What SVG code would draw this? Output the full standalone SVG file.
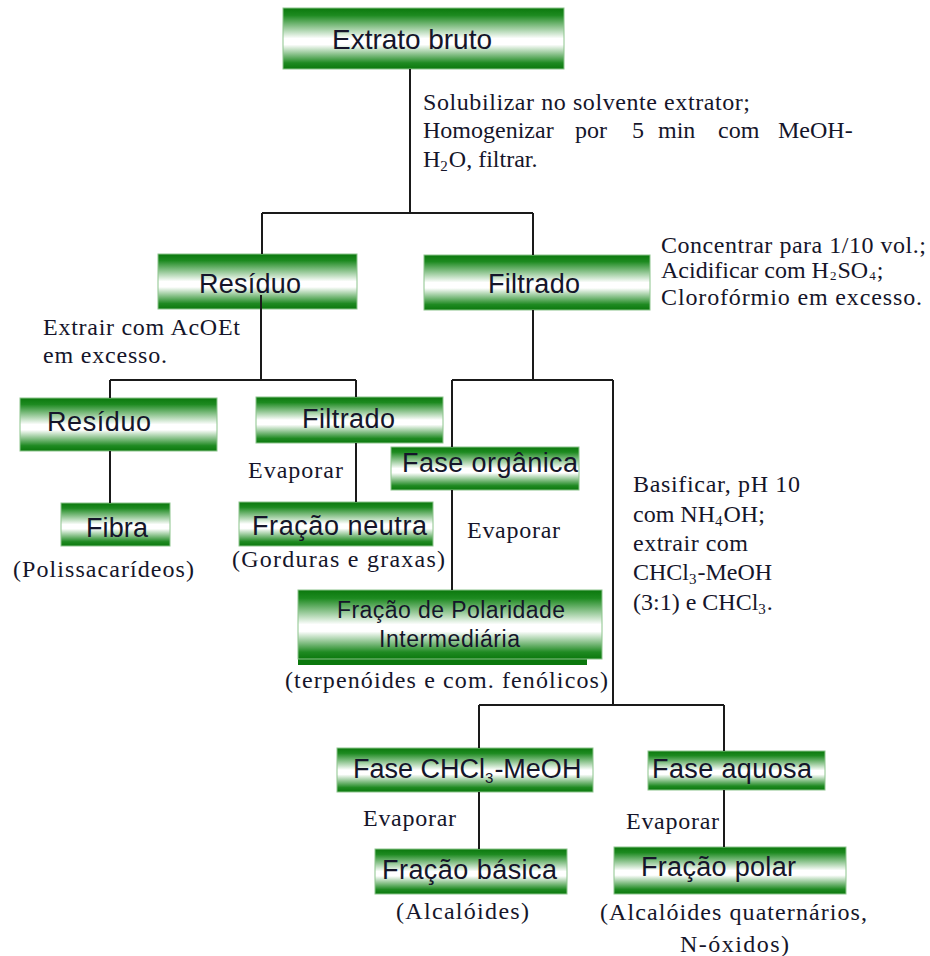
<svg xmlns="http://www.w3.org/2000/svg" width="930" height="956" viewBox="0 0 930 956">
<defs>
<linearGradient id="g" x1="0" y1="0" x2="0" y2="1">
<stop offset="0" stop-color="#0b780d"/>
<stop offset="0.12" stop-color="#1d8a20"/>
<stop offset="0.5" stop-color="#ffffff"/>
<stop offset="0.6" stop-color="#ffffff"/>
<stop offset="0.9" stop-color="#1f8a22"/>
<stop offset="1" stop-color="#0b780d"/>
</linearGradient>
<style>
.box{fill:url(#g);stroke:#8cc48c;stroke-width:1}
.ns{font-family:"Liberation Sans",Arial,sans-serif;font-size:27px;fill:#15152a}
.big{font-size:28px}
.sm{font-size:23px}
.sr{font-family:"Liberation Serif","Times New Roman",serif;font-size:24px;fill:#15152a}
.sub{font-size:15px}
.sub2{font-size:13px}
.ln{stroke:#1a1a1a;stroke-width:2;fill:none}
</style>
</defs>
<rect width="930" height="956" fill="#ffffff"/>

<g id="n-extrato">
<rect class="box" x="283" y="8" width="281" height="61"/>
<text class="ns big" x="332" y="49" textLength="160">Extrato bruto</text>
</g>
<g id="n-residuo1">
<rect class="box" x="158" y="254" width="199" height="55"/>
<text class="ns" x="199" y="293" textLength="102">Resíduo</text>
</g>
<g id="n-filtrado1">
<rect class="box" x="424" y="255" width="226" height="55"/>
<text class="ns" x="488" y="293" textLength="92">Filtrado</text>
</g>
<g id="n-residuo2">
<rect class="box" x="20" y="398" width="197" height="53"/>
<text class="ns" x="47" y="431" textLength="104">Resíduo</text>
</g>
<g id="n-filtrado2">
<rect class="box" x="256" y="397" width="187" height="46"/>
<text class="ns" x="302" y="428" textLength="93">Filtrado</text>
</g>
<g id="n-organica">
<rect class="box" x="391" y="447" width="188" height="43"/>
<text class="ns" x="402" y="472" textLength="176">Fase orgânica</text>
</g>
<g id="n-fibra">
<rect class="box" x="61" y="503" width="109" height="43"/>
<text class="ns" x="86" y="537" textLength="62">Fibra</text>
</g>
<g id="n-neutra">
<rect class="box" x="239" y="502" width="194" height="44"/>
<text class="ns" x="252" y="535" textLength="175">Fração neutra</text>
</g>
<g id="n-polaridade">
<rect x="298" y="657" width="289" height="8" fill="#0b780d"/>
<rect class="box" x="298" y="590" width="304" height="69"/>
<text class="ns sm" x="337" y="618" textLength="228">Fração de Polaridade</text>
<text class="ns sm" x="379" y="647" textLength="141">Intermediária</text>
</g>
<g id="n-chcl3">
<rect class="box" x="337" y="748" width="256" height="44"/>
<text class="ns" x="353" y="778">Fase CHCl<tspan class="sub" dy="5">3</tspan><tspan dy="-5" dx="1">-MeOH</tspan></text>
</g>
<g id="n-aquosa">
<rect class="box" x="648" y="751" width="177" height="39"/>
<text class="ns" x="652" y="778" textLength="160">Fase aquosa</text>
</g>
<g id="n-basica">
<rect class="box" x="375" y="849" width="192" height="45"/>
<text class="ns" x="382" y="879" textLength="175">Fração básica</text>
</g>
<g id="n-polar">
<rect class="box" x="614" y="847" width="232" height="47"/>
<text class="ns" x="641" y="876" textLength="155">Fração polar</text>
</g>

<g id="connectors">
<path class="ln" d="M410 69V213M262 213H533M262 213V254M533 213V255"/>
<path class="ln" d="M261 295V380M110 380H356M110 380V398M356 380V397M110 451V503M356 443V502"/>
<path class="ln" d="M533 310V380M452 380H613M452 380V447M452 490V590M613 380V705"/>
<path class="ln" d="M479 705H724M479 705V748M479 792V849M724 705V751M724 790V847"/>
</g>

<g id="labels">
<text class="sr" x="423" y="110" textLength="327">Solubilizar no solvente extrator;</text>
<text class="sr" y="138"><tspan x="423">Homogenizar</tspan><tspan x="575">por</tspan><tspan x="632">5</tspan><tspan x="658">min</tspan><tspan x="718">com</tspan><tspan x="778">MeOH-</tspan></text>
<text class="sr" x="423" y="167">H<tspan class="sub" dy="4">2</tspan><tspan dy="-4" dx="1">O, filtrar.</tspan></text>

<text class="sr" x="661" y="253" textLength="265">Concentrar para 1/10 vol.;</text>
<text class="sr" x="661" y="278">Acidificar com H<tspan class="sub2" dy="2" dx="1">2</tspan><tspan dy="-2" dx="1">SO</tspan><tspan class="sub2" dy="2" dx="1">4</tspan><tspan dy="-2" dx="1">;</tspan></text>
<text class="sr" x="661" y="305" textLength="261">Clorofórmio em excesso.</text>

<text class="sr" x="43" y="335" textLength="197">Extrair com AcOEt</text>
<text class="sr" x="43" y="363" textLength="124">em excesso.</text>

<text class="sr" x="248" y="478" textLength="95">Evaporar</text>
<text class="sr" x="467" y="538" textLength="93">Evaporar</text>

<text class="sr" x="633" y="492" textLength="167">Basificar, pH 10</text>
<text class="sr" x="633" y="522">com NH<tspan class="sub" dy="4">4</tspan><tspan dy="-4" dx="1">OH;</tspan></text>
<text class="sr" x="633" y="551" textLength="115">extrair com</text>
<text class="sr" x="633" y="580">CHCl<tspan class="sub" dy="4">3</tspan><tspan dy="-4" dx="1">-MeOH</tspan></text>
<text class="sr" x="633" y="610">(3:1) e CHCl<tspan class="sub" dy="4">3</tspan><tspan dy="-4" dx="1">.</tspan></text>

<text class="sr" x="13" y="577" textLength="181">(Polissacarídeos)</text>
<text class="sr" x="232" y="567" textLength="213">(Gorduras e graxas)</text>
<text class="sr" x="285" y="688" textLength="323">(terpenóides e com. fenólicos)</text>

<text class="sr" x="363" y="826" textLength="93">Evaporar</text>
<text class="sr" x="626" y="829" textLength="93">Evaporar</text>

<text class="sr" x="396" y="919" textLength="133">(Alcalóides)</text>
<text class="sr" x="600" y="920" textLength="267">(Alcalóides quaternários,</text>
<text class="sr" x="680" y="952" textLength="109">N-óxidos)</text>
</g>
</svg>
